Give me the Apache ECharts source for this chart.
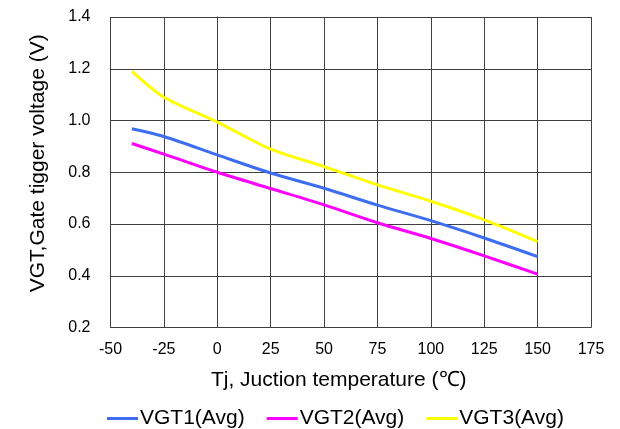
<!DOCTYPE html>
<html>
<head>
<meta charset="utf-8">
<script src="https://cdn.jsdelivr.net/npm/echarts@6/dist/echarts.min.js"></script>
<style>
  html, body { margin: 0; padding: 0; background: #fff; }
  #chart { width: 620px; height: 429px; }
</style>
</head>
<body>
<div id="chart"></div>
<script>
// Junction temperature sample points (°C)
const temps = [-40, -25, 0, 25, 50, 75, 100, 125, 150];
// Average gate trigger voltage per device group (V)
const vgt1 = [0.968, 0.938, 0.867, 0.797, 0.738, 0.673, 0.613, 0.546, 0.474];
const vgt2 = [0.911, 0.870, 0.800, 0.737, 0.674, 0.605, 0.544, 0.477, 0.406];
const vgt3 = [1.190, 1.090, 0.994, 0.889, 0.822, 0.751, 0.688, 0.616, 0.532];
const seriesNames = ['VGT1(Avg)', 'VGT2(Avg)', 'VGT3(Avg)'];
const seriesColors = ['#3d6ef2', '#ff00ff', '#ffff00'];

const font = 'Liberation Sans, Arial, sans-serif';
const pairs = vals => temps.map((t, i) => [t, vals[i]]);

const chart = echarts.init(document.getElementById('chart'), null, { renderer: 'canvas' });
chart.setOption({
  animation: false,
  backgroundColor: '#ffffff',
  grid: { left: 110.5, right: 29, top: 17, bottom: 101.5, containLabel: false },
  xAxis: {
    type: 'value', min: -50, max: 175, interval: 25,
    name: 'Tj, Juction temperature (℃)', nameLocation: 'middle', nameGap: 42,
    nameTextStyle: { fontFamily: font, fontSize: 21, color: '#000', padding: [0, 24, 0, 0] },
    axisLine: { show: true, lineStyle: { color: '#404040', width: 1 } },
    axisTick: { show: false },
    axisLabel: { fontFamily: font, fontSize: 16, color: '#000', margin: 14 },
    splitLine: { show: true, lineStyle: { color: '#404040', width: 1 } }
  },
  yAxis: {
    type: 'value', min: 0.2, max: 1.4, interval: 0.2,
    name: 'VGT,Gate tigger voltage (V)', nameLocation: 'middle', nameGap: 62,
    nameTextStyle: { fontFamily: font, fontSize: 21, color: '#000', padding: [0, 0, 0, 18] },
    axisLine: { show: true, lineStyle: { color: '#404040', width: 1 } },
    axisTick: { show: false },
    axisLabel: { fontFamily: font, fontSize: 16, color: '#000', margin: 20,
      formatter: v => v.toFixed(1) },
    splitLine: { show: true, lineStyle: { color: '#404040', width: 1 } }
  },
  legend: {
    top: 403, left: 102, itemGap: 22,
    icon: 'rect', itemWidth: 31, itemHeight: 3,
    textStyle: { fontFamily: font, fontSize: 21, color: '#000', padding: [0, 0, 0, -3] },
    data: seriesNames
  },
  series: [vgt1, vgt2, vgt3].map((vals, i) => ({
    name: seriesNames[i], type: 'line', data: pairs(vals),
    smooth: 0.3, showSymbol: false, symbol: 'none',
    lineStyle: { color: seriesColors[i], width: 3 },
    itemStyle: { color: seriesColors[i] }
  }))
});
</script>
</body>
</html>
